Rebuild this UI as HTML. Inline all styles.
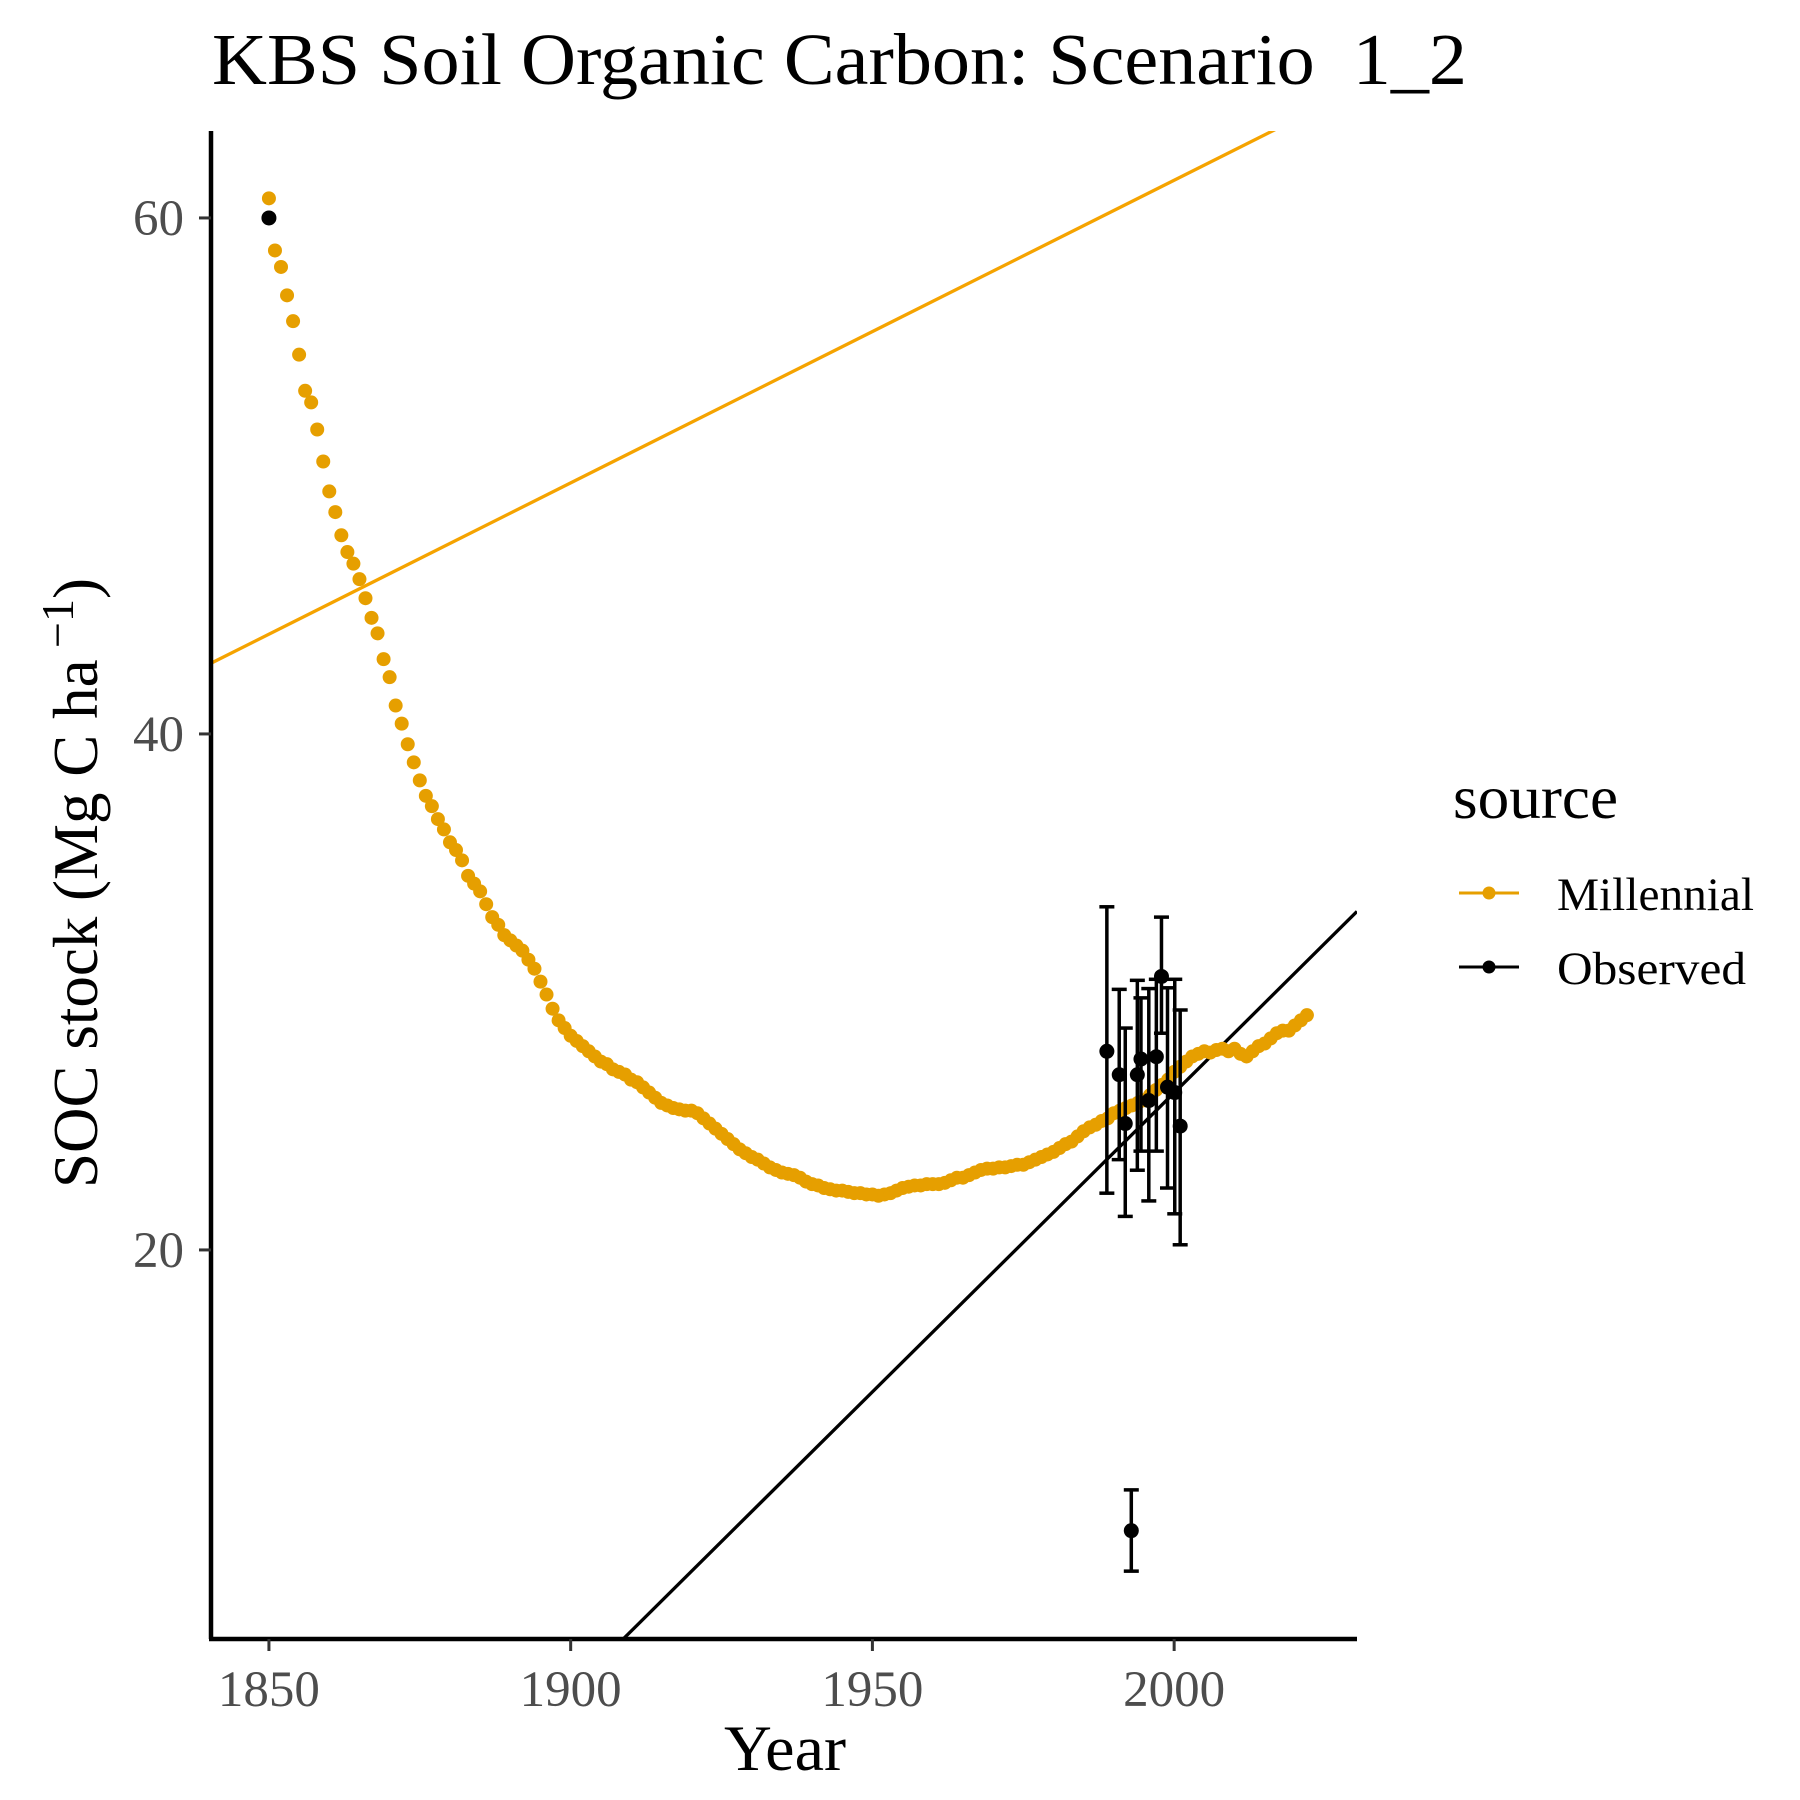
<!DOCTYPE html>
<html><head><meta charset="utf-8"><style>
html,body{margin:0;padding:0;background:#fff;overflow:hidden;width:1800px;height:1800px}
svg{display:block}
text{font-family:"Liberation Serif",serif}
</style></head><body>
<svg id="chart" width="1800" height="1800" viewBox="0 0 1800 1800">
<text x="212" y="84" font-size="73" fill="#000" textLength="1255" lengthAdjust="spacingAndGlyphs">KBS Soil Organic Carbon: Scenario&#160; 1_2</text>
<g id="plot"></g>
<text x="785" y="1770" font-size="65" text-anchor="middle" fill="#000" textLength="122" lengthAdjust="spacingAndGlyphs">Year</text>
<text transform="translate(97,883) rotate(-90)" font-size="63" text-anchor="middle" fill="#000">SOC stock (Mg C ha<tspan dy="-24" font-size="46"> −1</tspan><tspan dy="24">)</tspan></text>
<g>
<text x="1453" y="818" font-size="61" fill="#000" textLength="165" lengthAdjust="spacingAndGlyphs">source</text>
<g>
<line x1="1459" y1="893" x2="1519" y2="893" stroke="#E69F00" stroke-width="3"/>
<circle cx="1489" cy="893" r="6.5" fill="#E69F00"/>
<text x="1557" y="910" font-size="47" fill="#000" textLength="197" lengthAdjust="spacingAndGlyphs">Millennial</text></g>
<g>
<line x1="1459" y1="967" x2="1519" y2="967" stroke="#000" stroke-width="3"/>
<circle cx="1489" cy="967" r="6.5" fill="#000"/>
<text x="1557" y="984" font-size="47" fill="#000" textLength="189" lengthAdjust="spacingAndGlyphs">Observed</text></g>
</g>
</svg>
<script>
const xTicks = [1850, 1900, 1950, 2000];
const yTicks = [20, 40, 60];
const millStart = 1850;
const millValues = [
60.76,58.74,58.1,57.0,56.0,54.7,53.3,52.85,51.8,50.56,
49.4,48.6,47.7,47.05,46.6,46.0,45.26,44.5,43.9,42.9,
42.2,41.1,40.4,39.6,38.9,38.2,37.6,37.2,36.7,36.3,
35.8,35.5,35.1,34.5,34.2,33.9,33.4,32.9,32.6,32.2,
32.0,31.8,31.6,31.25,30.9,30.4,29.9,29.35,28.9,28.6,
28.3,28.1,27.9,27.7,27.5,27.3,27.2,27.0,26.9,26.8,
26.6,26.5,26.3,26.1,25.9,25.7,25.6,25.5,25.45,25.4,
25.4,25.3,25.1,24.9,24.7,24.5,24.3,24.1,23.9,23.75,
23.6,23.5,23.35,23.2,23.1,23.0,22.95,22.9,22.8,22.65,
22.55,22.5,22.4,22.35,22.3,22.3,22.25,22.2,22.2,22.15,
22.15,22.1,22.15,22.2,22.3,22.4,22.45,22.5,22.5,22.55,
22.55,22.55,22.6,22.7,22.8,22.8,22.9,23.0,23.1,23.15,
23.15,23.2,23.2,23.25,23.3,23.3,23.4,23.5,23.6,23.7,
23.8,23.95,24.1,24.2,24.4,24.6,24.75,24.85,25.0,25.1,
25.3,25.4,25.5,25.6,25.7,25.8,26.0,26.2,26.4,26.6,
26.9,27.1,27.3,27.5,27.6,27.7,27.65,27.75,27.8,27.7,
27.8,27.6,27.5,27.7,27.9,28.0,28.2,28.4,28.5,28.5,
28.7,28.9,29.1];
const obsYears = [1850,1988.85,1990.9,1991.9,1992.9,1993.9,1994.5,1995.8,1997.05,1997.9,1998.9,2000.1,2001.0];
const obsValues = [60,27.7,26.79,24.9,9.12,26.79,27.4,25.79,27.49,30.6,26.31,26.1,24.8];
const obsUpper = [60,33.3,30.1,28.6,10.7,30.45,29.77,30.13,30.49,32.9,30.16,30.49,29.3];
const obsLower = [60,22.2,23.5,21.3,7.55,23.09,23.83,21.9,23.83,28.4,22.4,21.4,20.2];
const millFit = [42.74, 0.1173, 1840.4];
const obsFit = [4.92, 0.2319, 1908.7];

const L=211, R=1357, T=131, B=1639;
const X0=1840.4, X1=2030.3, Y0=4.92, Y1=63.37;
const sx = v => L + (v - X0) / (X1 - X0) * (R - L);
const sy = v => B - (v - Y0) / (Y1 - Y0) * (B - T);
const NS="http://www.w3.org/2000/svg";
const svg=document.getElementById('chart');
const plot=document.getElementById('plot');
function mk(tag, attrs, parent){const e=document.createElementNS(NS,tag);for(const k in attrs)e.setAttribute(k,attrs[k]);(parent||plot).appendChild(e);return e;}

const clip=mk('clipPath',{id:'clp'},svg);
mk('rect',{x:L,y:T,width:R-L,height:B-T},clip);

function fitLine(p,color,name){
  const ya=p[0]+p[1]*(X0-p[2]), yb=p[0]+p[1]*(X1-p[2]);
  const l=mk('line',{x1:sx(X0),y1:sy(ya),x2:sx(X1),y2:sy(yb),stroke:color,'stroke-width':3.3,'clip-path':'url(#clp)'});
  
  
}
fitLine(millFit,'#F5A300','millennial-trend-line');
fitLine(obsFit,'#000','observed-trend-line');

millValues.forEach((v,i)=>{
  const c=mk('circle',{cx:sx(millStart+i),cy:sy(v),r:7,fill:'#E69F00'});
  
  
});
obsYears.forEach((yr,i)=>{
  const x=sx(yr);
  if(obsUpper[i]!==obsLower[i]){
    const g=mk('g',{stroke:'#000','stroke-width':3.5});
    
    
    mk('line',{x1:x,y1:sy(obsUpper[i]),x2:x,y2:sy(obsLower[i])},g);
    mk('line',{x1:x-7.5,y1:sy(obsUpper[i]),x2:x+7.5,y2:sy(obsUpper[i])},g);
    mk('line',{x1:x-7.5,y1:sy(obsLower[i]),x2:x+7.5,y2:sy(obsLower[i])},g);
  }
  const c=mk('circle',{cx:x,cy:sy(obsValues[i]),r:7.5,fill:'#000'});
  
  
});

const ax=mk('line',{x1:L-2,y1:B,x2:R,y2:B,stroke:'#000','stroke-width':4.5});


const ay=mk('line',{x1:L,y1:T,x2:L,y2:B,stroke:'#000','stroke-width':4.5});


xTicks.forEach(t=>{
  mk('line',{x1:sx(t),y1:B,x2:sx(t),y2:B+12,stroke:'#333','stroke-width':3});
  const tx=mk('text',{x:sx(t),y:1706,'font-size':51,'text-anchor':'middle',fill:'#4d4d4d'});
  tx.textContent=t;
  
  
});
yTicks.forEach(t=>{
  mk('line',{x1:L-12,y1:sy(t),x2:L,y2:sy(t),stroke:'#333','stroke-width':3});
  const tx=mk('text',{x:184,y:sy(t)+17,'font-size':51,'text-anchor':'end',fill:'#4d4d4d'});
  tx.textContent=t;
  
  
});
</script>
</body></html>
